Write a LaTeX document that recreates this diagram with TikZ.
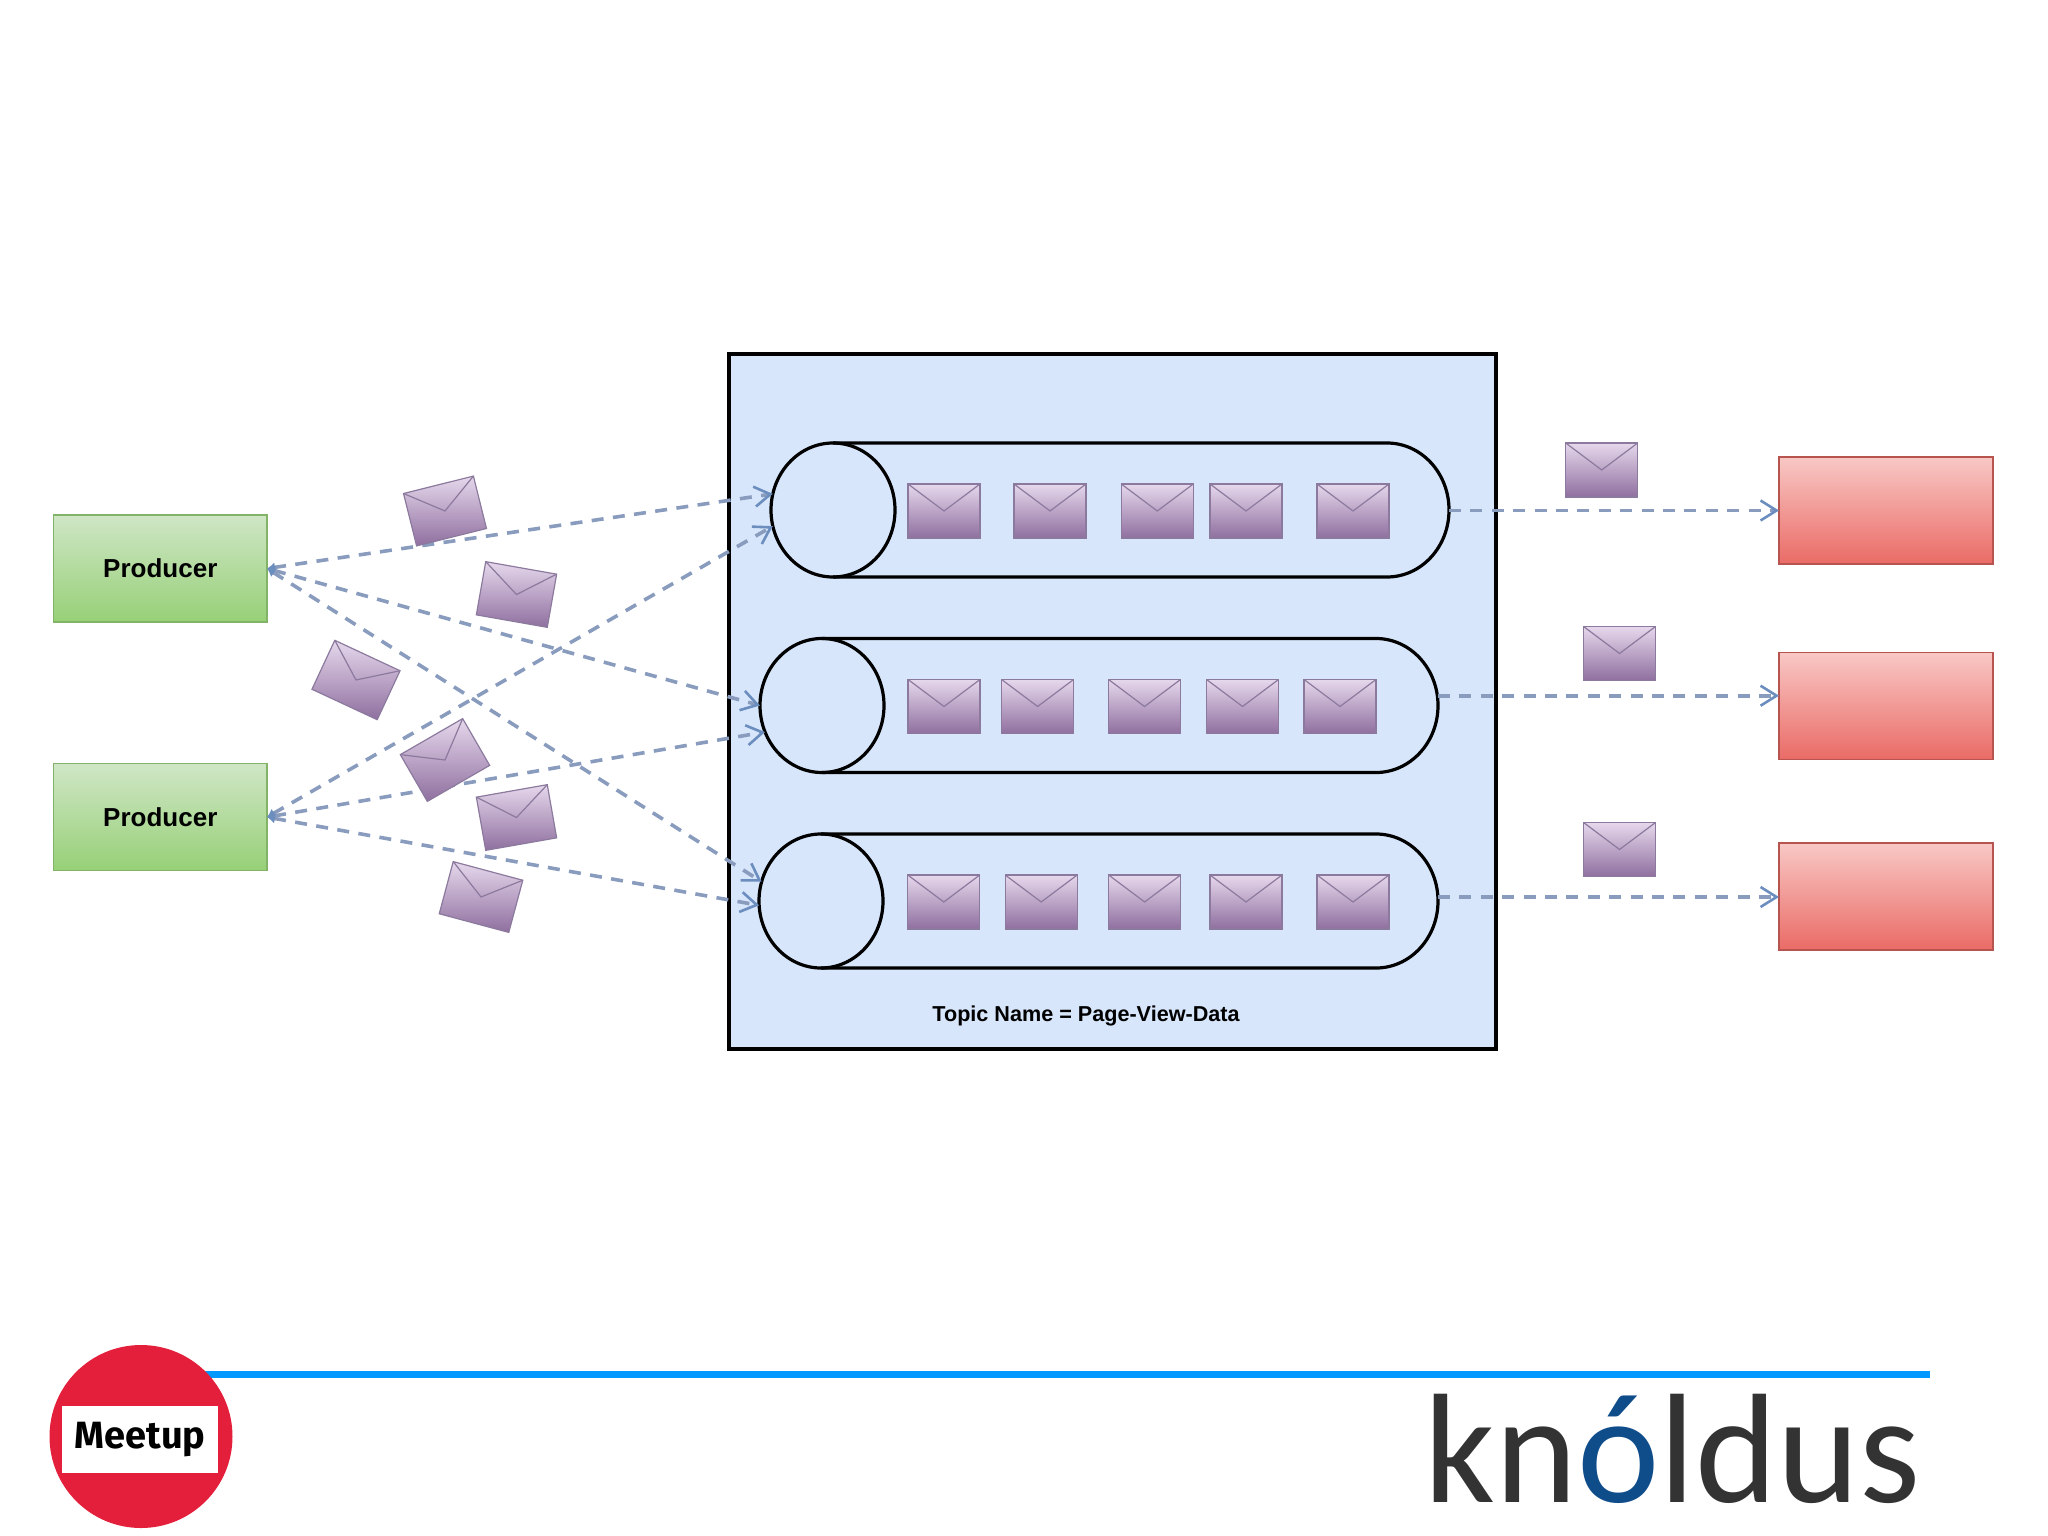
\documentclass[tikz,border=0pt]{standalone}
\usepackage{fontspec}
\setmainfont{Liberation Sans}
\newfontfamily\logofont{Carlito}
\newfontfamily\meetfont{Fira Sans}
\usepackage{xcolor}
\usetikzlibrary{arrows.meta,positioning,shapes.geometric}
\definecolor{topicblue}{HTML}{D7E6FB}
\definecolor{linkblue}{HTML}{8A9CBE}
\definecolor{tipblue}{HTML}{6C8EBF}
\definecolor{mailtop}{HTML}{E6D8EC}
\definecolor{mailbot}{HTML}{8F6F9F}
\definecolor{maildraw}{HTML}{8C7A9E}
\definecolor{meetred}{HTML}{E31F3C}
\definecolor{barblue}{HTML}{0099FF}
\definecolor{logoblue}{HTML}{0F4C8A}
\definecolor{logogrey}{HTML}{333333}
\definecolor{prodtop}{HTML}{CFE6C6}
\definecolor{prodbot}{HTML}{97D077}
\definecolor{proddraw}{HTML}{82B366}
\definecolor{constop}{HTML}{F8C8C5}
\definecolor{consbot}{HTML}{EA6B66}
\definecolor{consdraw}{HTML}{B85450}
\tikzset{
  prodbox/.style={draw=proddraw,line width=0.7pt,top color=prodtop,bottom color=prodbot,
    minimum width=106.7pt,minimum height=53.5pt,outer sep=0pt,font=\fontsize{13}{13}\selectfont\bfseries},
  consbox/.style={draw=consdraw,line width=0.7pt,top color=constop,bottom color=consbot,
    minimum width=107pt,minimum height=53.5pt,outer sep=0pt},
  mailbox/.style={draw=maildraw,top color=mailtop,bottom color=mailbot,
    minimum width=36pt,minimum height=27pt,inner sep=0pt,outer sep=0pt,line width=0.6pt},
  tubehead/.style={draw,ellipse,line width=1.6pt,minimum width=62pt,minimum height=67pt,
    inner sep=0pt,outer sep=0pt},
  inlink/.style={draw=linkblue,line width=1.8pt,dash pattern=on 6pt off 4.7pt,
    {Latex[length=4pt,width=5pt,color=tipblue]}-{Straight Barb[length=8pt,width=10pt,color=tipblue,line width=1.3pt]}},
  outlink/.style={draw=linkblue,line width=1.8pt,dash pattern=on 6pt off 4.7pt,
    -{Straight Barb[length=8pt,width=10pt,color=tipblue,line width=1.3pt]}}
}
\begin{document}
\begin{tikzpicture}[x=0.5pt,y=-0.5pt]
  \useasboundingbox (0,0) rectangle (2048,1535);

  \node[draw,line width=2.4pt,fill=topicblue,minimum width=383.5pt,minimum height=347.5pt,outer sep=0pt]
    (topic) at (1112.5,701.5) {};
  \node[font=\fontsize{10.8}{10.8}\selectfont\bfseries] (topicname) at (1086,1015.5) {Topic Name = Page-View-Data};

  \node[prodbox] (prod1) at (160.3,568.5) {Producer};
  \node[prodbox,below=70.8pt of prod1] (prod2) {Producer};

  \node[consbox] (cons1) at (1886,510.5) {};
  \node[consbox,below=44.2pt of cons1] (cons2) {};
  \node[consbox,below=41.8pt of cons2] (cons3) {};

  \foreach \name/\cx/\cy/\len in {tube1/833/510/554,tube2/822/705.5/554,tube3/821/901/555}{
    \node[tubehead] (\name) at (\cx,\cy) {};
    \draw[line width=1.6pt] (\name.north) -- ++(\len,0)
      arc[start angle=90,end angle=-90,x radius=31pt,y radius=33.5pt] -- (\name.south);
  }
  \coordinate (tube1out) at (1449,510.5);
  \coordinate (tube2out) at (1438,695.7);
  \coordinate (tube3out) at (1438,897);

  \draw[inlink] (prod1.east) -- (tube1.165);
  \draw[inlink] (prod1.east) -- (tube2.west);
  \draw[inlink] (prod1.east) -- (tube3.162);
  \draw[inlink] (prod2.east) -- (tube1.195);
  \draw[inlink] (prod2.east) -- (tube2.205);
  \draw[inlink] (prod2.east) -- (tube3.184);

  \draw[outlink] (tube1out) -- (cons1.west);
  \draw[outlink] (tube2out) -- (cons2.west |- tube2out);
  \draw[outlink] (tube3out) -- (cons3.west |- tube3out);

  \foreach \name/\mx/\my/\ang in {
    a1/944/511/0,a2/1050/511/0,a3/1157.3/511/0,a4/1246/511/0,a5/1353/511/0,
    b1/944/706.5/0,b2/1037.6/706.5/0,b3/1144.5/706.5/0,b4/1242.5/706.5/0,b5/1340/706.5/0,
    c1/943.8/902/0,c2/1041.2/902/0,c3/1144.6/902/0,c4/1246/902/0,c5/1353/902/0,
    r1/1601.7/470/0,r2/1619.5/653.5/0,r3/1619.5/849.5/0,
    f1/445/511/14,f2/516.5/594.5/-10,f3/356/680/-25,f4/445/760/30,f5/516.5/817.5/10,f6/481/897/-15}{
    \node[mailbox,rotate=\ang] (\name) at (\mx,\my) {};
    \draw[maildraw,line width=0.6pt] (\name.north west) -- (\name.center) -- (\name.north east);
  }

  \coordinate (barstart) at (205,1374.7);
  \coordinate (barend) at (1930,1374.7);
  \draw[barblue,line width=3.5pt] (barstart) -- (barend);
  \node[circle,fill=meetred,minimum size=91.5pt,inner sep=0pt] (meetup) at (141,1436.5) {};
  \node[fill=white,minimum width=78pt,minimum height=33.7pt,inner sep=0pt,
    font=\meetfont\fontsize{19}{19}\selectfont\bfseries] (meetname) at (140,1439.5) {Meetup};

  \node[anchor=base west,inner sep=0pt,text=logogrey,font=\logofont\fontsize{78}{78}\selectfont]
    (knoldus) at (1424,1502) {kn\textcolor{logoblue}{ó}ldus};
\end{tikzpicture}
\end{document}
